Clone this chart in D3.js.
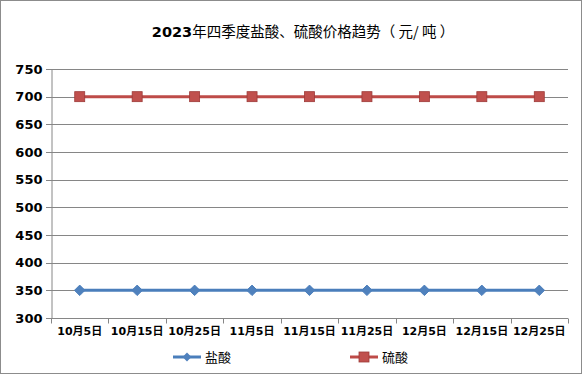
<html>
<head>
  <meta charset="utf-8">
  <script src="https://cdn.jsdelivr.net/npm/d3@7"></script>
  <style>
    body { margin: 0; background: #fff; }
    text { font-family: "DejaVu Sans", "Noto Sans CJK SC", sans-serif; }
  </style>
</head>
<body>
<script>
  // Data
  const dates = ["10月5日", "10月15日", "10月25日", "11月5日", "11月15日", "11月25日", "12月5日", "12月15日", "12月25日"];
  const hcl = [350, 350, 350, 350, 350, 350, 350, 350, 350];      // 盐酸
  const h2so4 = [700, 700, 700, 700, 700, 700, 700, 700, 700];    // 硫酸
  const yTicks = [300, 350, 400, 450, 500, 550, 600, 650, 700, 750];

  const w = 583, h = 375;
  const plotL = 51, plotR = 568, plotT = 69, plotB = 318;

  const svg = d3.select("body").append("svg")
    .attr("width", w)
    .attr("height", h);

  // Outer border
  svg.append("rect")
    .attr("x", 0.5).attr("y", 0.5)
    .attr("width", w - 2).attr("height", h - 2)
    .attr("fill", "#fff")
    .attr("stroke", "#8c8c8c");

  const xScale = d3.scaleBand().domain(dates).range([plotL, plotR]);
  const yScale = d3.scaleLinear().domain([300, 750]).range([plotB, plotT]);

  // Gridlines
  svg.append("g")
    .selectAll("line")
    .data(yTicks)
    .join("line")
    .attr("x1", plotL - 5).attr("x2", plotR)
    .attr("y1", d => Math.round(yScale(d)) + 0.5)
    .attr("y2", d => Math.round(yScale(d)) + 0.5)
    .attr("stroke", "#868686");

  // Y axis
  const yAxis = d3.axisLeft(yScale).tickValues(yTicks).tickSize(0).tickPadding(9);
  svg.append("g")
    .attr("transform", "translate(" + (plotL + 0.5) + ",0)")
    .call(yAxis)
    .call(g => g.select(".domain").attr("stroke", "#868686"))
    .call(g => g.selectAll("text")
      .attr("font-size", 13).attr("font-weight", "bold").attr("fill", "#000")
      .attr("font-family", "DejaVu Sans"));

  // X axis: ticks at category boundaries
  svg.append("g")
    .attr("transform", "translate(0," + (plotB + 0.5) + ")")
    .call(g => g.append("line")
      .attr("x1", plotL).attr("x2", plotR)
      .attr("stroke", "#868686"))
    .call(g => g.selectAll(".bt")
      .data(dates.concat([null]))
      .join("line")
      .attr("class", "bt")
      .attr("x1", (d, i) => Math.round(plotL + i * xScale.step()) + 0.5)
      .attr("x2", (d, i) => Math.round(plotL + i * xScale.step()) + 0.5)
      .attr("y1", 0).attr("y2", 5)
      .attr("stroke", "#868686"))
    .call(g => g.selectAll("text")
      .data(dates)
      .join("text")
      .attr("x", d => xScale(d) + xScale.bandwidth() / 2)
      .attr("y", 16)
      .attr("text-anchor", "middle")
      .attr("font-size", 11)
      .attr("font-weight", "bold")
      .text(d => d));

  const cx = d => xScale(d) + xScale.bandwidth() / 2;

  const line = d3.line()
    .x((d, i) => cx(dates[i]))
    .y(d => yScale(d));

  // 盐酸 line
  svg.append("path")
    .datum(hcl)
    .attr("fill", "none")
    .attr("stroke", "#4a7ebb")
    .attr("stroke-width", 3)
    .attr("d", line);

  svg.append("g")
    .selectAll("path")
    .data(hcl)
    .join("path")
    .attr("d", d3.symbol(d3.symbolDiamond2, 70))
    .attr("transform", (d, i) => "translate(" + cx(dates[i]) + "," + yScale(d) + ")")
    .attr("fill", "#4f81bd")
    .attr("stroke", "#4a7ebb");

  // 硫酸 line
  svg.append("path")
    .datum(h2so4)
    .attr("fill", "none")
    .attr("stroke", "#be4b48")
    .attr("stroke-width", 3)
    .attr("d", line);

  svg.append("g")
    .selectAll("rect")
    .data(h2so4)
    .join("rect")
    .attr("x", (d, i) => cx(dates[i]) - 5)
    .attr("y", d => yScale(d) - 5)
    .attr("width", 10).attr("height", 10)
    .attr("fill", "#c0504d")
    .attr("stroke", "#9d3a38")
    .attr("stroke-width", 0.8);

  // Title
  svg.append("text")
    .attr("x", 303).attr("y", 37)
    .attr("text-anchor", "middle")
    .attr("font-size", 14.5)
    .call(t => t.append("tspan").attr("font-weight", "bold").attr("font-family", "DejaVu Sans").text("2023"))
    .call(t => t.append("tspan").attr("font-family", "Noto Sans CJK SC").text("年四季度盐酸、硫酸价格趋势（ 元/ 吨 ）"));

  // Legend
  const legend = [
    { name: "盐酸", color: "#4a7ebb", x: 173, marker: "diamond" },
    { name: "硫酸", color: "#be4b48", x: 350, marker: "square" }
  ];
  const lg = svg.append("g").selectAll("g").data(legend).join("g")
    .attr("transform", d => "translate(" + d.x + ",357)");
  lg.append("line")
    .attr("x1", 0).attr("x2", 28)
    .attr("stroke", d => d.color).attr("stroke-width", 3);
  lg.filter(d => d.marker === "diamond").append("path")
    .attr("d", d3.symbol(d3.symbolDiamond2, 50))
    .attr("transform", "translate(14,0)")
    .attr("fill", "#4f81bd");
  lg.filter(d => d.marker === "square").append("rect")
    .attr("x", 9).attr("y", -5).attr("width", 10).attr("height", 10)
    .attr("fill", "#c0504d").attr("stroke", "#9d3a38").attr("stroke-width", 0.8);
  lg.append("text")
    .attr("x", 32).attr("y", 5)
    .attr("font-size", 13)
    .attr("font-family", "Noto Sans CJK SC")
    .text(d => d.name);
</script>
</body>
</html>
